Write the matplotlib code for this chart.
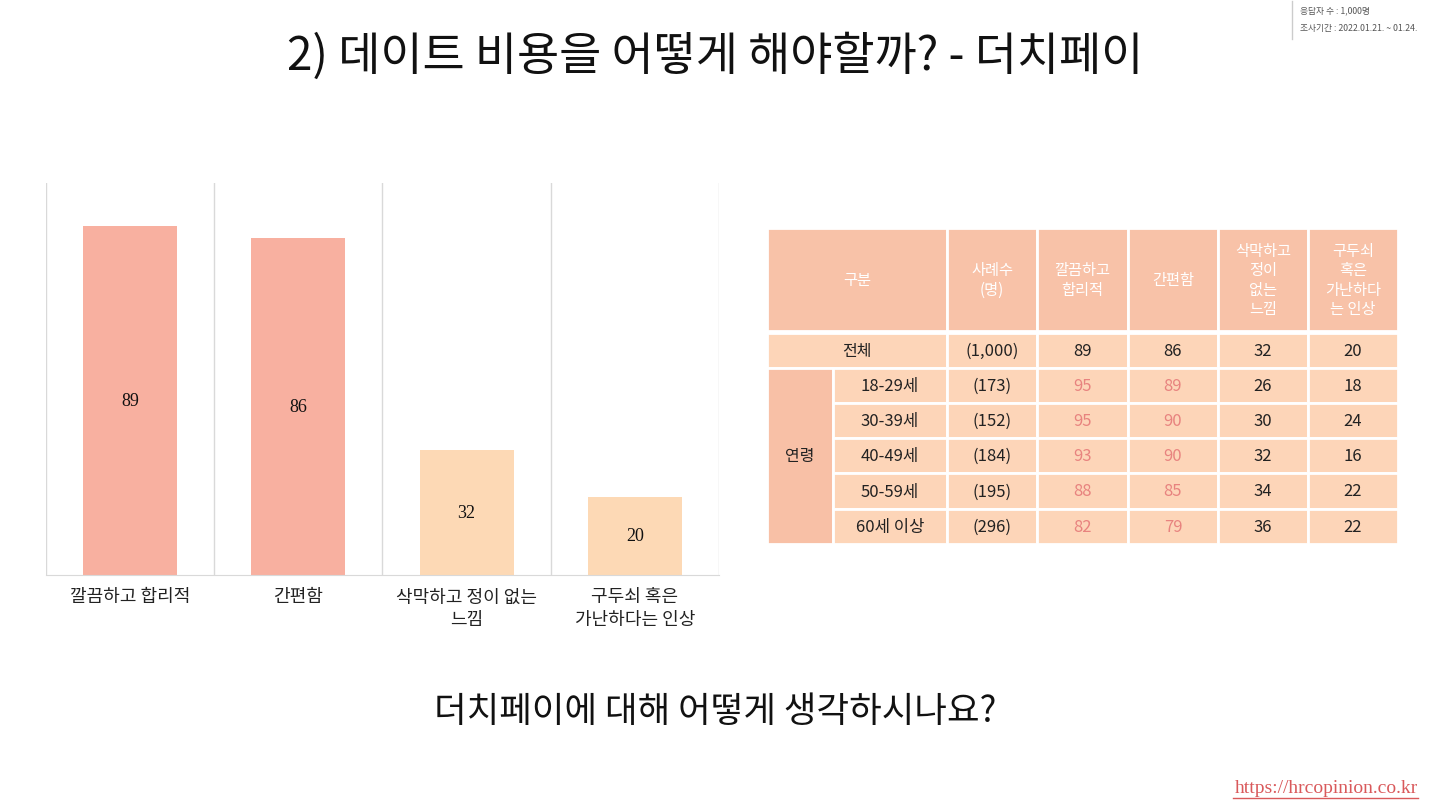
import matplotlib.pyplot as plt
from matplotlib.patches import Rectangle
from matplotlib.lines import Line2D

plt.rcParams['font.family'] = ['Noto Sans CJK KR', 'DejaVu Sans']

# --- Chart data ---
categories = ['깔끔하고 합리적', '간편함', '삭막하고 정이 없는\n느낌', '구두쇠 혹은\n가난하다는 인상']
values = [89, 86, 32, 20]
bar_colors = ['#F8B0A0', '#F8B0A0', '#FDD9B5', '#FDD9B5']

# --- Table data ---
header = ['구분', '사례수\n(명)', '깔끔하고\n합리적', '간편함', '삭막하고\n정이\n없는\n느낌', '구두쇠\n혹은\n가난하다\n는 인상']
total_row = ['전체', '(1,000)', '89', '86', '32', '20']
group_label = '연령'
age_groups = ['18-29세', '30-39세', '40-49세', '50-59세', '60세 이상']
age_counts = ['(173)', '(152)', '(184)', '(195)', '(296)']
age_values = [
    [95, 89, 26, 18],
    [95, 90, 30, 24],
    [93, 90, 32, 16],
    [88, 85, 34, 22],
    [82, 79, 36, 22],
]

W, H = 1430, 804
fig = plt.figure(figsize=(W / 100, H / 100), dpi=100)
fig.patch.set_facecolor('white')

# titles
fig.text(0.5, 1 - 57 / H, '2) 데이트 비용을 어떻게 해야할까? - 더치페이', ha='center', va='center',
         fontsize=33, color='#111111')
fig.text(0.5, 1 - 712 / H, '더치페이에 대해 어떻게 생각하시나요?', ha='center', va='center',
         fontsize=25.5, color='#111111')

# survey note at top right
fig.add_artist(Line2D([1292 / W, 1292 / W], [1 - 2 / H, 1 - 40 / H], color='#CCCCCC', lw=1))
fig.text(1300 / W, 1 - 11 / H, '응답자 수 : 1,000명', fontsize=6.3, color='#555555', va='center')
fig.text(1300 / W, 1 - 28 / H, '조사기간 : 2022.01.21. ~ 01.24.', fontsize=6.3, color='#555555', va='center')

# url
fig.text(1418 / W, 1 - 789 / H, 'https://hrcopinion.co.kr', ha='right', va='center', fontsize=14,
         color='#D9595B', family='Liberation Serif')
fig.add_artist(Line2D([1233 / W, 1418 / W], [1 - 799 / H, 1 - 799 / H], color='#D9595B', lw=1))

# --- Bar chart ---
ax = fig.add_axes([46 / W, 1 - 576 / H, 673 / W, 392 / H])
x = range(len(categories))
bars = ax.bar(x, values, width=0.56, color=bar_colors)
for b, v in zip(bars, values):
    ax.text(b.get_x() + b.get_width() / 2, v / 2, str(v), ha='center', va='center',
            fontsize=13, color='#111111', family='Liberation Serif')
ax.set_ylim(0, 100)
ax.set_xlim(-0.5, len(categories) - 0.5)
for xb in [i - 0.5 for i in range(len(categories) + 1)]:
    ax.axvline(xb, color='#D9D9D9', lw=1, zorder=0)
for s in ['top', 'left', 'right']:
    ax.spines[s].set_visible(False)
ax.spines['bottom'].set_color('#D9D9D9')
ax.set_yticks([])
ax.set_xticks(list(x))
ax.set_xticklabels(categories, fontsize=13, color='#222222', linespacing=1.3)
ax.tick_params(axis='x', length=0, pad=9)

# --- Table ---
col_edges = [767, 833, 947, 1037, 1128, 1218, 1308, 1398]
header_top, header_bot = 229, 332
row_edges = [334, 369, 404, 439, 474, 510, 545]
tab_left, tab_right = col_edges[0], col_edges[-1]
tab_top, tab_bot = header_top, row_edges[-1]

tax = fig.add_axes([tab_left / W, 1 - tab_bot / H, (tab_right - tab_left) / W, (tab_bot - tab_top) / H])
tax.set_xlim(tab_left, tab_right)
tax.set_ylim(tab_bot, tab_top)
tax.axis('off')

head_color = '#F8C2A8'
body_color = '#FDD5B8'
group_color = '#F8C0A6'
red_text = '#E8837F'
edge = dict(edgecolor='white', lw=2)


def cell(x0, x1, y0, y1, color, text, tcolor='#222222', size=11.5):
    tax.add_patch(Rectangle((x0, y0), x1 - x0, y1 - y0, facecolor=color, **edge))
    tax.text((x0 + x1) / 2, (y0 + y1) / 2, text, ha='center', va='center', color=tcolor,
             fontsize=size, linespacing=1.2)


# header row: first header spans the two label columns
header_cols = [(col_edges[0], col_edges[2])] + [(col_edges[i], col_edges[i + 1]) for i in range(2, 7)]
for (x0, x1), h in zip(header_cols, header):
    cell(x0, x1, header_top, header_bot, head_color, h, tcolor='white', size=11)

# total row
cell(col_edges[0], col_edges[2], row_edges[0], row_edges[1], body_color, total_row[0])
for i, t in enumerate(total_row[1:]):
    cell(col_edges[i + 2], col_edges[i + 3], row_edges[0], row_edges[1], body_color, t, size=12)

# age group rows
cell(col_edges[0], col_edges[1], row_edges[1], row_edges[-1], group_color, group_label)
for r, (g, n, vals) in enumerate(zip(age_groups, age_counts, age_values)):
    y0, y1 = row_edges[r + 1], row_edges[r + 2]
    cell(col_edges[1], col_edges[2], y0, y1, body_color, g, size=12)
    cell(col_edges[2], col_edges[3], y0, y1, body_color, n, size=12)
    for j, v in enumerate(vals):
        c = red_text if j < 2 else '#222222'
        cell(col_edges[j + 3], col_edges[j + 4], y0, y1, body_color, str(v), tcolor=c, size=12)

fig.savefig('out.png', dpi=100)
